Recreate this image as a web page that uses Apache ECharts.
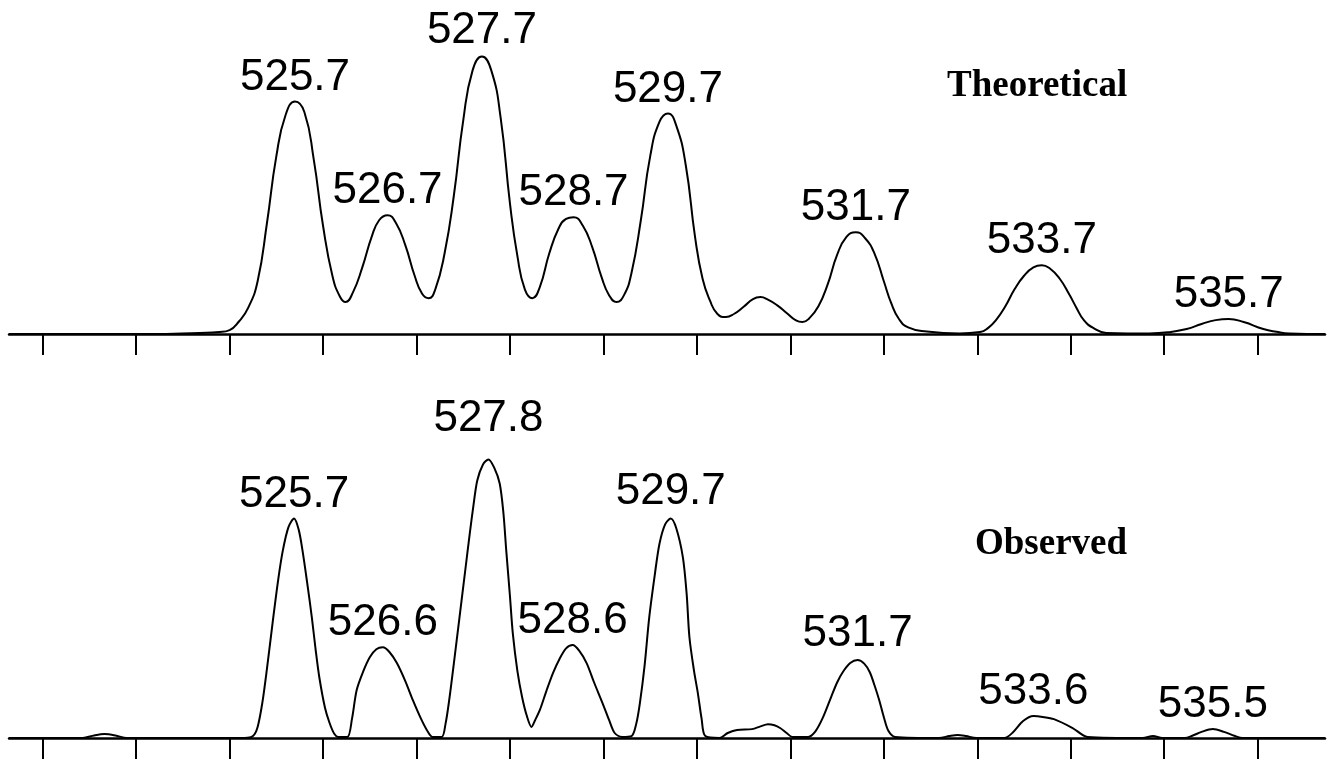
<!DOCTYPE html>
<html>
<head>
<meta charset="utf-8">
<script src="https://cdn.jsdelivr.net/npm/echarts@6/dist/echarts.min.js"></script>
<style>
html,body{margin:0;padding:0;background:#fff;}
#chart{width:1328px;height:760px;}
</style>
</head>
<body>
<div id="chart"></div>
<script>
// ---- data (m/z, relative intensity %) ----
const tickValues = [523,524,525,526,527,528,529,530,531,532,533,534,535,536];

const theoMz = [522.64,524.14,524.68,524.89,525.00,525.10,525.20,525.30,525.40,525.50,525.60,525.70,525.80,525.90,526.00,526.10,526.18,526.24,526.32,526.42,526.52,526.60,526.69,526.78,526.88,526.98,527.06,527.13,527.20,527.30,527.40,527.50,527.60,527.70,527.80,527.90,528.00,528.08,528.16,528.24,528.32,528.42,528.52,528.60,528.68,528.78,528.88,528.98,529.06,529.14,529.22,529.30,529.40,529.50,529.60,529.69,529.78,529.88,529.98,530.06,530.14,530.22,530.31,530.40,530.50,530.60,530.68,530.76,530.86,530.96,531.06,531.13,531.20,531.30,531.40,531.50,531.60,531.70,531.80,531.90,532.00,532.08,532.16,532.26,532.46,532.81,533.03,533.12,533.20,533.30,533.40,533.50,533.60,533.69,533.78,533.88,533.98,534.06,534.14,534.24,534.38,534.84,535.04,535.24,535.40,535.55,535.69,535.85,536.06,536.20,536.34,536.72];
const theoInt = [0,0,0.4,0.7,1.4,4.5,9.5,19,40,64,79,83.8,80,63,39,21,13.5,11.5,15,24,35,41,42.8,40,32,21,14.5,12.9,16,29,50,77,95,100,95,78,47,28,16,12.9,17,29,38,41.5,42.1,39,31.3,20.5,14,11.5,14,22,41,64,76.5,79.5,75,61,35,20,12,7.2,6.1,7.3,9.8,12.6,13.3,12.4,10.3,7.6,4.9,4.3,5.6,10,18,28.5,35,36.7,34.5,29,19,11,5.5,2.4,0.9,0.2,0.7,2.3,5.0,10,16.2,21,24,24.8,23.5,20,14.5,9.5,5.0,2.2,0.4,0.2,0.6,1.8,3.6,5.0,5.4,4.3,1.8,0.8,0.2,0];

const obsMz = [522.64,523.18,523.43,523.55,523.66,523.78,523.90,525.16,525.25,525.30,525.35,525.40,525.46,525.52,525.57,525.63,525.69,525.74,525.78,525.83,525.88,525.92,525.96,526.02,526.07,526.12,526.16,526.26,526.31,526.36,526.43,526.50,526.57,526.64,526.71,526.79,526.88,526.96,527.04,527.11,527.17,527.27,527.31,527.35,527.40,527.46,527.52,527.57,527.61,527.65,527.71,527.77,527.83,527.89,527.93,527.96,528.00,528.03,528.08,528.13,528.18,528.23,528.27,528.32,528.39,528.46,528.53,528.60,528.67,528.74,528.82,528.90,528.99,529.06,529.12,529.20,529.30,529.35,529.39,529.44,529.49,529.55,529.60,529.66,529.72,529.78,529.85,529.89,529.92,529.97,530.01,530.05,530.09,530.24,530.33,530.43,530.59,530.68,530.76,530.83,530.89,530.96,531.02,531.19,531.27,531.35,531.44,531.50,531.56,531.64,531.72,531.79,531.85,531.90,531.95,532.00,532.05,532.12,532.59,532.70,532.79,532.88,532.99,533.29,533.38,533.49,533.60,533.70,533.82,534.02,534.18,534.77,534.88,534.98,535.22,535.30,535.40,535.52,535.64,535.75,535.84,536.72];
const obsInt = [0,0,0,0.9,1.4,0.9,0,0,0.7,4,12.6,25,41.4,57,67.6,76,79.1,75,67.6,56,43.5,32,21.9,11,5.4,1.5,0.4,0.4,7,17.3,24,29.1,32,32.7,31,27,20.5,13.7,7.5,2.9,0.4,0.4,5,13.7,27,43.5,60,73.7,84,92.8,98.5,100.4,97.5,91.7,81,67.6,51,37.8,24,14.7,8,4.0,6.5,10.1,17,23.4,28.5,32.3,33.5,31.5,27.0,20,12.6,6.5,1.8,0.4,0.7,5,12.6,26,43.5,59,70.1,77,79.1,75.5,65.1,52,36.3,24,16.2,7,0.7,0,1.8,2.9,3.2,4.2,5.0,4.6,3.6,1.8,0.4,0.4,2.5,7.5,15.1,20,23.7,27,28.1,26.8,23.7,19,13.7,7.5,2.5,0.4,0,0.7,1.1,0.7,0,0,2,6.1,7.9,7.6,6.8,3.6,0.4,0,0.7,0,0,0.8,2.2,3.2,2.2,0.8,0,0];

const theoPeakMz   = [525.70,526.69,527.70,528.68,529.69,531.70,533.69,535.69];
const theoPeakInt  = [83.8,42.8,100,42.1,79.5,36.7,24.8,5.4];
const theoPeakText = ['525.7','526.7','527.7','528.7','529.7','531.7','533.7','535.7'];

const obsPeakMz   = [525.69,526.64,527.77,528.67,529.72,531.72,533.60,535.52];
const obsPeakInt  = [79.1,32.7,100.4,33.5,79.1,28.1,7.9,3.2];
const obsPeakText = ['525.7','526.6','527.8','528.6','529.7','531.7','533.6','535.5'];

const panelNames = ['Theoretical','Observed'];

// ---- chart ----
const chart = echarts.init(document.getElementById('chart'), null, {renderer:'canvas'});
const zip = (a,b) => a.map((v,i)=>[v,b[i]]);

const labelLift = { theo: {2:2}, obs: {2:17, 4:3, 5:2} };
const labelFont = {color:'#000', opacity:1, textBorderWidth:0, fontFamily:'"Liberation Sans", Arial, sans-serif', fontSize:44};

function peakLabels(mz, it, txt, lift, gi){
  return {
    type:'scatter', xAxisIndex:gi, yAxisIndex:gi, symbolSize:0, silent:true, z:5,
    itemStyle:{opacity:1, color:'#000'},
    data: mz.map((m,i)=>({
      value:[m,it[i]],
      label:Object.assign({show:true, position:'top', distance: 2 + (lift[i]||0), formatter: txt[i]}, labelFont)
    })),
    label:labelFont
  };
}

function xAx(gi){
  return {
    type:'value', gridIndex:gi, min:522.64, max:536.72,
    axisLine:{show:true, onZero:false, lineStyle:{color:'#000', width:2.5}},
    axisTick:{show:true, length:21, customValues:tickValues, lineStyle:{color:'#000', width:2}},
    axisLabel:{show:false}, splitLine:{show:false}
  };
}
function yAx(gi){
  return {type:'value', gridIndex:gi, min:0, max:120, show:false, splitLine:{show:false}};
}
const lineBase = {type:'line', showSymbol:false, silent:true, z:3};

chart.setOption({
  animation:false,
  backgroundColor:'#fff',
  grid:[
    {left:9, width:1316, top:1, height:333},
    {left:9, width:1316, top:405, height:333}
  ],
  xAxis:[xAx(0), xAx(1)],
  yAxis:[yAx(0), yAx(1)],
  graphic:[
    {type:'text', left:947, top:68, style:{text:panelNames[0], font:'bold 37px "Liberation Serif", "Times New Roman", serif', fill:'#000'}},
    {type:'text', left:975, top:526, style:{text:panelNames[1], font:'bold 37px "Liberation Serif", "Times New Roman", serif', fill:'#000'}}
  ],
  series:[
    Object.assign({}, lineBase, {xAxisIndex:0, yAxisIndex:0, smooth:0.5, data:zip(theoMz,theoInt), lineStyle:{color:'#000', width:2}}),
    Object.assign({}, lineBase, {xAxisIndex:1, yAxisIndex:1, smooth:0.3, data:zip(obsMz,obsInt), lineStyle:{color:'#000', width:2}}),
    peakLabels(theoPeakMz, theoPeakInt, theoPeakText, labelLift.theo, 0),
    peakLabels(obsPeakMz, obsPeakInt, obsPeakText, labelLift.obs, 1)
  ]
});
</script>
</body>
</html>
